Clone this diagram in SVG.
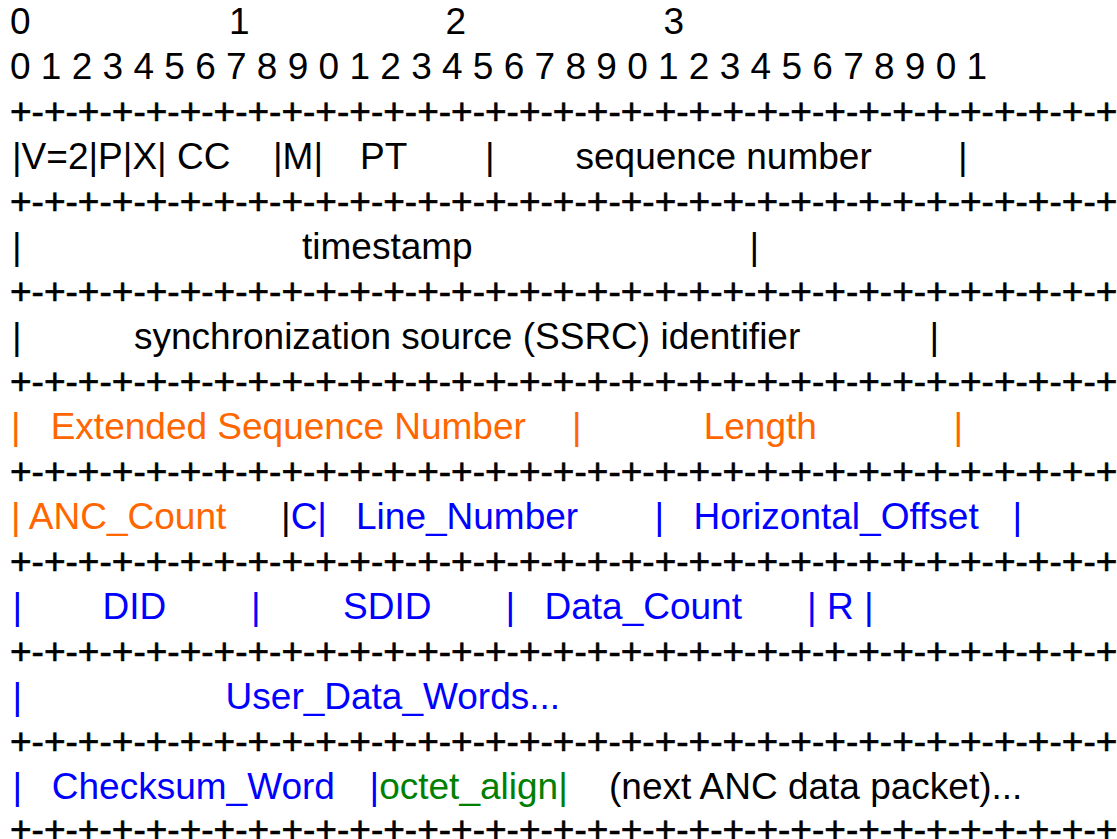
<svg xmlns="http://www.w3.org/2000/svg" width="1117" height="839" viewBox="0 0 1117 839">
<style>
text{font-family:"Liberation Sans",Arial,sans-serif;font-size:37px;fill:#000}
.sep{stroke:#000;stroke-width:0.6}
.o{fill:#FF6600}
.b{fill:#0000FF}
.g{fill:#008000}
.k{fill:#000}
</style>
<rect width="1117" height="839" fill="#fff"/>
<g id="ruler">
<text x="10" y="34">0</text>
<text x="229" y="34">1</text>
<text x="445.5" y="34">2</text>
<text x="663.5" y="34">3</text>
<text x="10" y="79">0 1 2 3 4 5 6 7 8 9 0 1 2 3 4 5 6 7 8 9 0 1 2 3 4 5 6 7 8 9 0 1</text>
</g>
<g id="separators">
<text class="sep" x="10" y="124">+-+-+-+-+-+-+-+-+-+-+-+-+-+-+-+-+-+-+-+-+-+-+-+-+-+-+-+-+-+-+-+-+</text>
<text class="sep" x="10" y="214">+-+-+-+-+-+-+-+-+-+-+-+-+-+-+-+-+-+-+-+-+-+-+-+-+-+-+-+-+-+-+-+-+</text>
<text class="sep" x="10" y="304">+-+-+-+-+-+-+-+-+-+-+-+-+-+-+-+-+-+-+-+-+-+-+-+-+-+-+-+-+-+-+-+-+</text>
<text class="sep" x="10" y="394">+-+-+-+-+-+-+-+-+-+-+-+-+-+-+-+-+-+-+-+-+-+-+-+-+-+-+-+-+-+-+-+-+</text>
<text class="sep" x="10" y="484">+-+-+-+-+-+-+-+-+-+-+-+-+-+-+-+-+-+-+-+-+-+-+-+-+-+-+-+-+-+-+-+-+</text>
<text class="sep" x="10" y="574">+-+-+-+-+-+-+-+-+-+-+-+-+-+-+-+-+-+-+-+-+-+-+-+-+-+-+-+-+-+-+-+-+</text>
<text class="sep" x="10" y="664">+-+-+-+-+-+-+-+-+-+-+-+-+-+-+-+-+-+-+-+-+-+-+-+-+-+-+-+-+-+-+-+-+</text>
<text class="sep" x="10" y="754">+-+-+-+-+-+-+-+-+-+-+-+-+-+-+-+-+-+-+-+-+-+-+-+-+-+-+-+-+-+-+-+-+</text>
<text class="sep" x="10" y="842">+-+-+-+-+-+-+-+-+-+-+-+-+-+-+-+-+-+-+-+-+-+-+-+-+-+-+-+-+-+-+-+-+</text>
</g>
<g id="row-rtp1">
<text x="12" y="169">|V=2|P|X| CC</text>
<text x="273" y="169">|M|</text>
<text x="360" y="169">PT</text>
<text x="485" y="169">|</text>
<text x="575.5" y="169">sequence number</text>
<text x="958" y="169">|</text>
</g>
<g id="row-timestamp">
<text x="12" y="259">|</text>
<text x="302" y="259">timestamp</text>
<text x="749.5" y="259">|</text>
</g>
<g id="row-ssrc">
<text x="12" y="349">|</text>
<text x="134" y="349">synchronization source (SSRC) identifier</text>
<text x="929.5" y="349">|</text>
</g>
<g id="row-ext">
<text class="o" x="11" y="439">|</text>
<text class="o" x="50.7" y="439">Extended Sequence Number</text>
<text class="o" x="572" y="439">|</text>
<text class="o" x="703.7" y="439">Length</text>
<text class="o" x="953.5" y="439">|</text>
</g>
<g id="row-anc">
<text class="o" x="11" y="529">| ANC_Count</text>
<text x="281" y="529"><tspan class="k">|</tspan><tspan class="b">C|</tspan></text>
<text class="b" x="356" y="529">Line_Number</text>
<text class="b" x="654.4" y="529">|</text>
<text class="b" x="693.5" y="529">Horizontal_Offset</text>
<text class="b" x="1012.5" y="529">|</text>
</g>
<g id="row-did">
<text class="b" x="12.5" y="619">|</text>
<text class="b" x="102.5" y="619">DID</text>
<text class="b" x="251" y="619">|</text>
<text class="b" x="343" y="619">SDID</text>
<text class="b" x="505.5" y="619">|</text>
<text class="b" x="544.5" y="619">Data_Count</text>
<text class="b" x="807" y="619">| R |</text>
</g>
<g id="row-udw">
<text class="b" x="12.5" y="709">|</text>
<text class="b" x="225.6" y="709">User_Data_Words...</text>
</g>
<g id="row-checksum">
<text class="b" x="12.6" y="799">|</text>
<text class="b" x="51.8" y="799">Checksum_Word</text>
<text class="b" x="369.6" y="799">|</text>
<text class="g" x="379.2" y="799">octet_align|</text>
<text x="609" y="799">(next ANC data packet)...</text>
</g>
</svg>
